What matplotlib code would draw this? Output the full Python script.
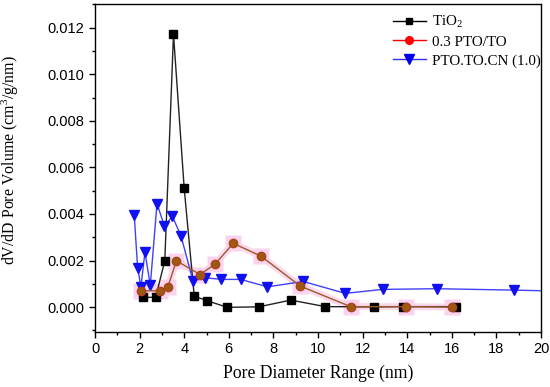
import matplotlib
matplotlib.use("Agg")
import matplotlib.pyplot as plt
from matplotlib.lines import Line2D
from matplotlib.ticker import MultipleLocator

plt.rcParams["mathtext.fontset"] = "custom"
plt.rcParams["mathtext.rm"] = "Liberation Serif"
plt.rcParams["mathtext.it"] = "Liberation Serif:italic"
plt.rcParams["mathtext.bf"] = "Liberation Serif:bold"

# Data
tio2_x = [2.15, 2.72, 3.13, 3.52, 4.0, 4.45, 5.04, 5.93, 7.34, 8.78, 10.33, 12.5, 13.8, 16.2]
tio2_y = [0.00042, 0.00042, 0.00199, 0.01172, 0.0051, 0.00047, 0.00027, -0.00001, 0.00001, 0.0003, 0.00002, 0.00001, 0.00002, 0.00002]

pto_x = [2.06, 2.90, 3.27, 3.65, 4.71, 5.39, 6.20, 7.44, 9.21, 11.46, 13.95, 16.02]
pto_y = [0.0007, 0.0007, 0.00087, 0.00199, 0.0014, 0.00185, 0.00274, 0.00219, 0.0009, 0.00002, 0.00002, 0.0]

cn_x = [1.76, 1.91, 2.06, 2.24, 2.48, 2.78, 3.11, 3.47, 3.86, 4.39, 4.93, 5.67, 6.53, 7.73, 9.34, 11.22, 12.9, 15.32, 18.77, 21.0]
cn_y = [0.00395, 0.0017, 0.00087, 0.00236, 0.00093, 0.00445, 0.00348, 0.0039, 0.00305, 0.00113, 0.00126, 0.00119, 0.00119, 0.00087, 0.0011, 0.00059, 0.00076, 0.00079, 0.00073, 0.00068]

labels = [r"TiO$_\mathrm{2}$", "0.3 PTO/TO", "PTO.TO.CN (1.0)"]
x_ticks = list(range(0, 21, 2))
y_ticks = [0.000, 0.002, 0.004, 0.006, 0.008, 0.010, 0.012]

fig = plt.figure(figsize=(5.5, 3.87), dpi=100)
ax = fig.add_axes([95/550, 1-332/387, (541-95)/550, (332-4)/387])

ax.plot(tio2_x, tio2_y, color="#222222", lw=1.0, marker="s", ms=5.5,
        mfc="black", mec="black", zorder=3)
ax.plot(cn_x, cn_y, color="#4040ff", lw=1.0, marker="v", ms=7,
        mfc="#1010f0", mec="#1010f0", zorder=4)
# pink halo behind the red/brown series
ax.plot(pto_x, pto_y, color="#fbd9ef", lw=5, marker="s", ms=11,
        mfc="#fbd3ee", mec="none", zorder=2)
ax.plot(pto_x, pto_y, color="#9c5a2a", lw=1.0, marker="o", ms=6,
        mfc="#9a5a12", mec="#b0401a", zorder=5)

ax.set_xlim(0, 20)
ax.set_ylim(-0.00107, 0.01302)
ax.set_xticks(x_ticks)
ax.set_yticks(y_ticks)
ax.xaxis.set_minor_locator(MultipleLocator(1))
ax.yaxis.set_minor_locator(MultipleLocator(0.001))
ax.set_yticklabels([f"{v:.3f}" for v in y_ticks])
ax.tick_params(axis="both", which="major", direction="out", length=4, width=1,
               labelsize=10.5, top=False, right=False)
ax.tick_params(axis="both", which="minor", direction="out", length=2.5, width=1,
               top=False, right=False)
for lab in ax.get_xticklabels() + ax.get_yticklabels():
    lab.set_fontfamily("Liberation Sans")
for s in ax.spines.values():
    s.set_linewidth(1.0)

ax.set_xlabel("Pore Diameter Range (nm)", fontfamily="Liberation Serif", fontsize=12.7, labelpad=6)
ax.set_ylabel(r"dV/dD Pore Volume (cm$^\mathrm{3}$/g/nm)", fontfamily="Liberation Serif", fontsize=11.4)
ax.yaxis.set_label_coords(-0.165, 0.524)

handles = [
    Line2D([], [], color="black", lw=1, marker="s", ms=5),
    Line2D([], [], color="red", lw=1, marker="o", ms=5.5),
    Line2D([], [], color="#3030ff", lw=1, marker="v", ms=6.5, mfc="#0000ee", mec="#0000ee"),
]
ax.legend(handles, labels, loc="upper right", frameon=False,
          prop={"family": "Liberation Serif", "size": 10.8},
          handlelength=2.25, handletextpad=0.4, labelspacing=0.35,
          bbox_to_anchor=(1.022, 1.0), borderaxespad=0.25)

fig.savefig("out.png", dpi=100)
